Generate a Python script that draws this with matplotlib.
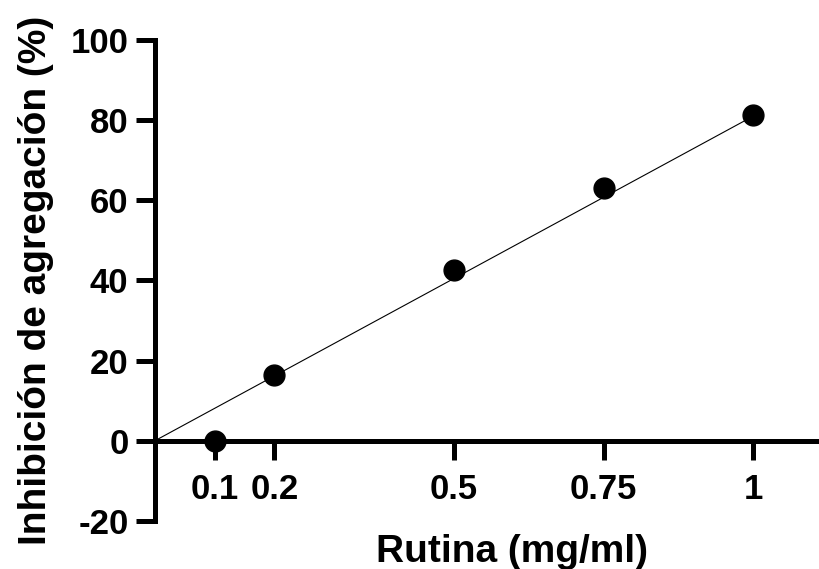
import matplotlib.pyplot as plt

plt.rcParams['font.family'] = ['Liberation Sans', 'DejaVu Sans']
plt.rcParams['font.weight'] = 'bold'
plt.rcParams['axes.unicode_minus'] = False

# measured points
conc = [0.1, 0.2, 0.5, 0.75, 1.0]
inhib = [0.0, 16.5, 42.5, 63.0, 81.3]

# fitted line endpoints
fit_x = [0.0, 1.0]
fit_y = [0.0, 81.0]

xticks = [0.1, 0.2, 0.5, 0.75, 1.0]
xtick_labels = ['0.1', '0.2', '0.5', '0.75', '1']
yticks = [-20, 0, 20, 40, 60, 80, 100]

fig = plt.figure(figsize=(8.19, 5.69), dpi=100)
ax = fig.add_axes([0.189, 0.0844, 0.811, 0.8453])

ax.plot(fit_x, fit_y, color='black', linewidth=0.8, zorder=2)
ax.plot(conc, inhib, 'o', color='black', markersize=15, zorder=3, clip_on=False)

ax.set_xlim(0, 1.11)
ax.set_ylim(-20, 100)

ax.spines['top'].set_visible(False)
ax.spines['right'].set_visible(False)
ax.spines['bottom'].set_position(('data', 0))
for s in ['left', 'bottom']:
    ax.spines[s].set_linewidth(3.6)

ax.set_xticks(xticks)
ax.set_xticklabels(xtick_labels)
ax.set_yticks(yticks)
ax.tick_params(axis='both', length=14, width=3.6, labelsize=25, direction='out')
ax.tick_params(axis='x', pad=9)
ax.tick_params(axis='y', pad=5)

ax.set_xlabel('Rutina (mg/ml)', fontsize=28, fontweight='bold')
ax.xaxis.set_label_coords(0.538, -0.028)
ax.set_ylabel('Inhibición de agregación (%)', fontsize=28, fontweight='bold')
ax.yaxis.set_label_coords(-0.152, 0.5)

fig.savefig('out.png', dpi=100)
